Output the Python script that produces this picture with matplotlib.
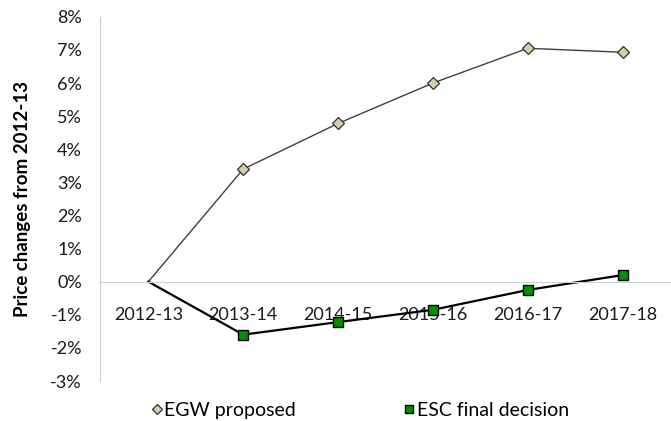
import matplotlib.pyplot as plt
from matplotlib.ticker import FuncFormatter

plt.rcParams['font.family'] = ['Lato', 'DejaVu Sans']

# data
years = ['2012-13', '2013-14', '2014-15', '2015-16', '2016-17', '2017-18']
egw = [0.0, 3.4, 4.78, 6.0, 7.05, 6.93]
esc = [0.0, -1.6, -1.22, -0.85, -0.25, 0.2]

fig = plt.figure(figsize=(6.71, 4.21), dpi=100)
ax = fig.add_axes([0.149, 0.095, 0.851, 0.865])

x = list(range(len(years)))
ax.plot(x, egw, color='#404040', lw=1.0, marker='D', ms=6, markevery=list(range(1, 6)),
        mfc='#D6CCA8', mec='#303030', mew=0.9, label='EGW proposed')
ax.plot(x, esc, color='black', lw=1.6, marker='s', ms=7.5, markevery=list(range(1, 6)),
        mfc='#009000', mec='black', mew=1.0, label='ESC final decision')

ax.set_ylim(-3, 8)
ax.set_xlim(-0.51, 5.51)
ax.set_yticks(range(-3, 9))
ax.yaxis.set_major_formatter(FuncFormatter(lambda v, p: f'{int(v)}%'))
ax.set_xticks(x)
ax.set_xticklabels(years)

for s in ['top', 'right']:
    ax.spines[s].set_visible(False)
ax.spines['left'].set_color('#D0D0D0')
ax.spines['bottom'].set_color('#D0D0D0')
ax.spines['bottom'].set_position(('data', 0))
ax.tick_params(axis='both', length=0, labelsize=13, colors='#1a1a1a')
ax.tick_params(axis='x', pad=18)
ax.tick_params(axis='y', pad=13)

ax.set_ylabel('Price changes from 2012-13', fontsize=13.5, fontweight='bold', labelpad=14)

leg = ax.legend(loc='center', bbox_to_anchor=(0.455, -0.08), ncol=2, frameon=False,
                fontsize=14, handlelength=0.6, handletextpad=0.1, columnspacing=5.5,
                markerscale=0.8)
# legend markers only
for h in leg.get_lines():
    h.set_linestyle('none')

fig.savefig('out.png', dpi=100)
